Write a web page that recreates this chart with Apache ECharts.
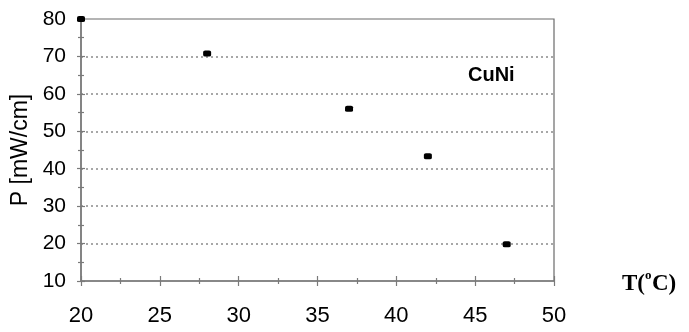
<!DOCTYPE html>
<html>
<head>
<meta charset="utf-8">
<script src="https://cdn.jsdelivr.net/npm/echarts@6/dist/echarts.min.js"></script>
<style>
  html, body { margin: 0; padding: 0; background: #fff; }
  #chart { width: 689px; height: 332px; }
</style>
</head>
<body>
<div id="chart"></div>
<script>
// 数据
var tempValues = [20, 28, 37, 42, 47];
var powerValues = [80, 70.8, 56, 43.3, 19.8];
var xTicks = [20, 25, 30, 35, 40, 45, 50];
var yTicks = [10, 20, 30, 40, 50, 60, 70, 80];

var axisGray = '#7a7a7a';

function baseX(inner) {
  return {
    type: 'value',
    min: xTicks[0], max: xTicks[xTicks.length - 1], interval: 5,
    position: 'bottom',
    axisLine: { show: !inner, lineStyle: { color: axisGray, width: 1.5 } },
    axisTick: { show: true, inside: inner, length: 5, lineStyle: { color: axisGray, width: 1.2 } },
    minorTick: { show: true, splitNumber: 2, length: 3, lineStyle: { color: axisGray, width: 1.2 } },
    axisLabel: { show: !inner, margin: 24, color: '#000', fontSize: 22, fontFamily: 'Liberation Sans' },
    splitLine: { show: false }
  };
}
function baseY(inner) {
  return {
    type: 'value',
    min: yTicks[0], max: yTicks[yTicks.length - 1], interval: 10,
    position: 'left',
    name: inner ? '' : 'P [mW/cm]',
    nameLocation: 'middle', nameRotate: 90, nameGap: 44,
    nameTextStyle: { color: '#000', fontSize: 23, fontFamily: 'Liberation Sans' },
    axisLine: { show: !inner, lineStyle: { color: axisGray, width: 1.5 } },
    axisTick: { show: true, inside: inner, length: 4, lineStyle: { color: axisGray, width: 1.2 } },
    minorTick: { show: true, splitNumber: 2, length: 3, lineStyle: { color: axisGray, width: 1.2 } },
    axisLabel: { show: !inner, margin: 15, color: '#000', fontSize: 21, fontFamily: 'Liberation Sans' },
    splitLine: {
      show: !inner, showMinLine: false, showMaxLine: false,
      lineStyle: { color: '#8a8a8a', type: [2, 3], width: 1.5 }
    }
  };
}

var serifBold = 'bold 23px "Liberation Serif"';

var myChart = echarts.init(document.getElementById('chart'), null, { renderer: 'canvas' });
myChart.setOption({
  backgroundColor: '#fff',
  animation: false,
  grid: {
    left: 81, right: 135, top: 19, bottom: 51,
    show: true, borderColor: '#6a6a6a', borderWidth: 1.2, backgroundColor: 'transparent'
  },
  xAxis: [baseX(false), baseX(true)],
  yAxis: [baseY(false), baseY(true)],
  graphic: [
    {
      type: 'text', left: 468, top: 65,
      style: { text: 'CuNi', fill: '#000', font: 'bold 20px "Liberation Sans"' }
    },
    {
      type: 'text', x: 622, y: 284,
      style: { text: 'T(', fill: '#000', font: serifBold, textVerticalAlign: 'middle' }
    },
    {
      type: 'text', x: 645, y: 276,
      style: { text: 'o', fill: '#000', font: 'bold 13px "Liberation Serif"', textVerticalAlign: 'middle' }
    },
    {
      type: 'text', x: 652, y: 284,
      style: { text: 'C)', fill: '#000', font: serifBold, textVerticalAlign: 'middle' }
    }
  ],
  series: [{
    type: 'scatter',
    xAxisIndex: 0, yAxisIndex: 0,
    symbol: 'roundRect',
    symbolSize: [8, 6],
    itemStyle: { color: '#000', opacity: 1 },
    clip: false,
    data: tempValues.map(function (t, i) { return [t, powerValues[i]]; })
  }]
});
</script>
</body>
</html>
